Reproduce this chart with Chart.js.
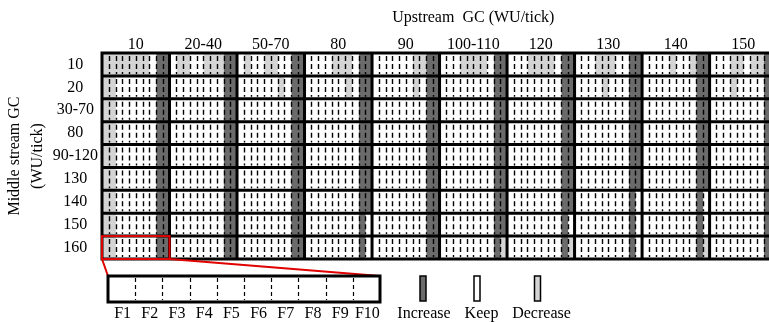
<!DOCTYPE html>
<html><head><meta charset="utf-8">
<script src="https://cdn.jsdelivr.net/npm/chart.js@4/dist/chart.umd.min.js"></script>
<style>html,body{margin:0;padding:0;background:#fff;overflow:hidden}#wrap{width:769px;height:322px}</style>
</head><body><div id="wrap"><canvas id="c" width="769" height="322"></canvas></div>
<script>
// ---- data ----
const upstreamGC = ['10','20-40','50-70','80','90','100-110','120','130','140','150'];
const middleGC = ['10','20','30-70','80','90-120','130','140','150','160'];
const factorLabels = ['F1','F2','F3','F4','F5','F6','F7','F8','F9','F10'];
const stateLabels = ['Increase','Keep','Decrease'];
const xTitle = 'Upstream  GC (WU/tick)';
const yTitle = ['Middle stream GC', '(WU/tick)'];
// one string per upstream GC column, chars = F1..F10 ; I = increase, K = keep, D = decrease
const mid10    = ['DDDDDDDKII','KDDKKDDDII','KDKKDDKKII','KKKKDDDKII','KKKKKKDDII','KKKDDDDKII','KKKDDDDKII','KKKDDDKKII','KKKKDKKDII','KKKDDKDDII'];
const mid20    = ['DDKKKKKKII','KKKKKKKKII','KKKKKKDKII','KKKKKKDKII','KKKKKKDKII','KKKKKKKKII','KKKKKKKKII','KKKKDKKKII','KKKKKKKKII','KKKDKKKKII'];
const mid30_70 = ['DDKKKKKKII','KKKKKKKKII','KKKKKKKKII','KKKKKKKKII','KKKKKKKKII','KKKKKKKKII','KKKKKKKKII','KKKKKKKKII','KKKKKKKKII','KKKKKKKKII'];
const mid80    = ['DDKKKKKKII','KKKKKKKKII','KKKKKKKKII','KKKKKKKKII','KKKKKKKKII','KKKKKKKKII','KKKKKKKKII','KKKKKKKKII','KKKKKKKKII','KKKKKKKKII'];
const mid90_120= ['DDKKKKKKII','KKKKKKKKII','KKKKKKKKII','KKKKKKKKII','KKKKKKKKII','KKKKKKKKII','KKKKKKKKII','KKKKKKKKII','KKKKKKKKII','KKKKKKKKII'];
const mid130   = ['DDKKKKKKII','KKKKKKKKII','KKKKKKKKII','KKKKKKKKII','KKKKKKKKII','KKKKKKKKII','KKKKKKKKII','KKKKKKKKII','KKKKKKKKII','KKKKKKKKII'];
const mid140   = ['DDKKKKKKII','KKKKKKKKII','KKKKKKKKII','KKKKKKKKII','KKKKKKKKII','KKKKKKKKII','KKKKKKKKII','KKKKKKKKIK','KKKKKKKKIK','KKKKKKKKII'];
const mid150   = ['DDKKKKKKII','KKKKKKKKII','KKKKKKKKII','KKKKKKKKIK','KKKKKKKKII','KKKKKKKKII','KKKKKKKKIK','KKKKKKKKIK','KKKKKKKKIK','KKKKKKKKII'];
const mid160   = ['DDKKKKKKII','KKKKKKKKII','KKKKKKKKII','KKKKKKKKIK','KKKKKKKKII','KKKKKKKKID','KKKKKKKKID','KKKKKKKKIK','KKKKKKKKID','KKKKKKKKII'];
const stateRows = [mid10, mid20, mid30_70, mid80, mid90_120, mid130, mid140, mid150, mid160];
const highlightRow = 8, highlightCol = 0;

// ---- styles ----
const FONT = 'Liberation Serif';
const COLORS = { I: '#6b6b6b', K: '#ffffff', D: '#d4d4d4' };
const legendColors = [COLORS.I, COLORS.K, COLORS.D];

// ---- datasets: one per (upstream column, factor) ----
const datasets = [];
upstreamGC.forEach((_, c) => {
  factorLabels.forEach((__, f) => {
    datasets.push({
      data: middleGC.map(() => [c + f / factorLabels.length, c + (f + 1) / factorLabels.length]),
      backgroundColor: middleGC.map((___, r) => COLORS[stateRows[r][c][f]]),
      borderWidth: 0
    });
  });
});

const decor = {
  id: 'decor',
  afterDatasetsDraw(chart) {
    const { ctx, chartArea: a, scales: { x, y } } = chart;
    const nF = factorLabels.length;
    const band = y.getPixelForValue(1) - y.getPixelForValue(0);
    const rowTop = i => y.getPixelForValue(i) - band / 2;
    ctx.save();
    ctx.beginPath();
    ctx.rect(a.left - 3, a.top - 3, a.right - a.left + 3, a.bottom - a.top + 6);
    ctx.clip();
    // dashed factor separators
    ctx.strokeStyle = '#000';
    ctx.lineWidth = 1.4;
    ctx.setLineDash([5, 3]);
    ctx.beginPath();
    middleGC.forEach((_, i) => {
      const t = rowTop(i) + 3, b = rowTop(i) + band - 2;
      upstreamGC.forEach((__, c) => {
        for (let f = 1; f < nF; f++) {
          const xp = Math.round(x.getPixelForValue(c + f / nF)) + 0.5;
          ctx.moveTo(xp, t); ctx.lineTo(xp, b);
        }
      });
    });
    ctx.stroke();
    ctx.setLineDash([]);
    // thick cell borders
    ctx.lineWidth = 3;
    ctx.beginPath();
    for (let i = 0; i <= middleGC.length; i++) {
      const yy = rowTop(0) + i * band;
      ctx.moveTo(a.left - 1.5, yy); ctx.lineTo(a.right + 5, yy);
    }
    for (let c = 0; c <= upstreamGC.length; c++) {
      const xx = x.getPixelForValue(c);
      ctx.moveTo(xx, rowTop(0) - 1.5); ctx.lineTo(xx, rowTop(0) + band * middleGC.length + 1.5);
    }
    ctx.stroke();
    ctx.restore();

    // x title (centred slightly right of the visible grid, as in the source)
    ctx.save();
    ctx.fillStyle = '#000';
    ctx.font = '16px "' + FONT + '"';
    ctx.textAlign = 'center';
    ctx.textBaseline = 'middle';
    ctx.fillText(xTitle, x.getPixelForValue(5.5), 18);
    ctx.restore();

    // red highlight box and zoom lines
    const hx0 = x.getPixelForValue(highlightCol), hx1 = x.getPixelForValue(highlightCol + 1);
    const hy0 = rowTop(highlightRow), hy1 = hy0 + band;
    const bx = 108, by = 276, bw = 272, bh = 26;
    ctx.save();
    ctx.strokeStyle = '#e00000';
    ctx.lineWidth = 2;
    ctx.strokeRect(hx0, hy0, hx1 - hx0, hy1 - hy0);
    ctx.beginPath();
    ctx.moveTo(hx0, hy1); ctx.lineTo(bx, by);
    ctx.moveTo(hx1, hy1); ctx.lineTo(bx + bw, by);
    ctx.stroke();
    ctx.restore();

    // magnified factor box
    ctx.save();
    ctx.fillStyle = '#fff';
    ctx.fillRect(bx, by, bw, bh);
    ctx.strokeStyle = '#000';
    ctx.lineWidth = 1.2;
    ctx.setLineDash([4, 3]);
    ctx.beginPath();
    for (let f = 1; f < nF; f++) {
      const xp = Math.round(bx + f * bw / nF) + 0.5;
      ctx.moveTo(xp, by + 2); ctx.lineTo(xp, by + bh - 2);
    }
    ctx.stroke();
    ctx.setLineDash([]);
    ctx.lineWidth = 3;
    ctx.strokeRect(bx, by, bw, bh);
    ctx.fillStyle = '#000';
    ctx.font = '16px "' + FONT + '"';
    ctx.textAlign = 'center';
    ctx.textBaseline = 'middle';
    factorLabels.forEach((lab, f) => {
      ctx.fillText(lab, bx + (f + 0.5) * bw / nF + 1, 314);
    });
    // state legend
    const rectX = [423, 477, 537.5];
    const labX = [424, 481.5, 541.5];
    stateLabels.forEach((lab, k) => {
      ctx.fillStyle = legendColors[k];
      ctx.fillRect(rectX[k] - 3, 276, 6, 25);
      ctx.strokeStyle = '#000';
      ctx.lineWidth = 1.5;
      ctx.strokeRect(rectX[k] - 3, 276, 6, 25);
      ctx.fillStyle = '#000';
      ctx.fillText(lab, labX[k], 314);
    });
    ctx.restore();
  }
};

new Chart(document.getElementById('c'), {
  type: 'bar',
  data: { labels: middleGC, datasets },
  options: {
    indexAxis: 'y',
    responsive: false,
    animation: false,
    layout: { padding: { left: 0, right: 0, top: 0, bottom: 63 } },
    plugins: { legend: { display: false }, tooltip: { enabled: false } },
    datasets: { bar: { grouped: false, barPercentage: 1, categoryPercentage: 1, borderWidth: 0 } },
    scales: {
      x: {
        type: 'linear', position: 'top', min: 0, max: 9.88,
        afterFit: s => { s.height = 53; },
        afterBuildTicks: s => { s.ticks = upstreamGC.map((_, i) => ({ value: i + 0.5 })); },
        ticks: { autoSkip: false, maxRotation: 0, padding: -1, color: '#000', font: { family: FONT, size: 16 },
                 callback: (v, i) => upstreamGC[i] },
        grid: { display: false, drawTicks: false }, border: { display: false },
        title: { display: false }
      },
      y: {
        type: 'category', position: 'left', offset: true,
        afterFit: s => { s.width = 102; },
        ticks: { crossAlign: 'center', padding: 4, color: '#000', font: { family: FONT, size: 16 } },
        grid: { display: false, drawTicks: false }, border: { display: false },
        title: { display: true, text: yTitle, color: '#000', font: { family: FONT, size: 16, lineHeight: 1.4 }, padding: { top: 4, bottom: 0 } }
      }
    }
  },
  plugins: [decor]
});
</script></body></html>
